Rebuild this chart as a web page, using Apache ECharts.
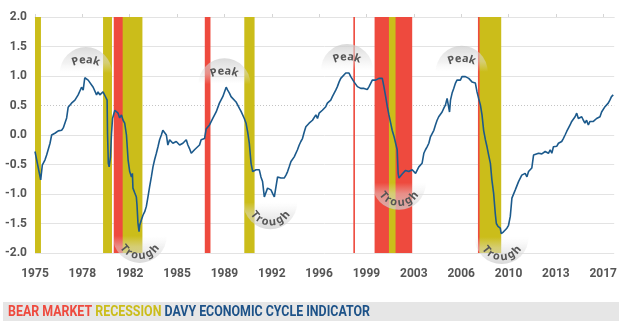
<!DOCTYPE html>
<html><head><meta charset="utf-8">
<script src="https://cdn.jsdelivr.net/npm/echarts@6/dist/echarts.min.js"></script>
<style>html,body{margin:0;padding:0;background:#fff}#c{width:620px;height:325px}</style>
</head><body><div id="c"></div>
<script>
// ---- data (decimal years / indicator values) ----
const dates = [
1975.00,1975.42,1975.54,1975.74,1975.86,1976.11,1976.23,1976.47,1976.72,1976.97,
1977.09,1977.34,1977.45,1977.70,1977.95,1978.19,1978.44,1978.56,1978.68,1978.81,
1978.93,1979.05,1979.30,1979.55,1979.66,1979.79,1980.03,1980.23,1980.33,1980.36,
1980.42,1980.48,1980.58,1980.65,1980.73,1980.90,1981.02,1981.14,1981.26,1981.39,
1981.51,1981.63,1981.76,1981.88,1982.00,1982.13,1982.20,1982.24,1982.37,1982.49,
1982.54,1982.61,1982.69,1982.74,1982.86,1982.98,1983.11,1983.23,1983.35,1983.47,
1983.60,1983.72,1983.84,1983.97,1984.09,1984.21,1984.34,1984.45,1984.58,1984.71,
1984.82,1984.95,1985.19,1985.44,1985.69,1985.93,1986.18,1986.30,1986.42,1986.55,
1986.67,1986.79,1986.92,1987.16,1987.28,1987.53,1987.65,1987.90,1988.14,1988.39,
1988.63,1988.88,1989.13,1989.24,1989.37,1989.49,1989.61,1989.86,1990.11,1990.23,
1990.35,1990.47,1990.60,1990.72,1990.84,1990.97,1991.09,1991.21,1991.34,1991.58,
1991.70,1991.82,1991.95,1992.07,1992.19,1992.32,1992.44,1992.56,1992.69,1992.81,
1992.93,1993.05,1993.18,1993.42,1993.55,1993.67,1993.79,1993.92,1994.03,1994.16,
1994.28,1994.40,1994.53,1994.65,1994.77,1994.90,1995.02,1995.26,1995.51,1995.63,
1995.76,1995.88,1996.00,1996.24,1996.49,1996.61,1996.74,1996.86,1996.98,1997.11,
1997.23,1997.35,1997.48,1997.60,1997.72,1997.97,1998.09,1998.21,1998.34,1998.46,
1998.58,1998.71,1998.83,1998.95,1999.08,1999.19,1999.32,1999.44,1999.56,1999.69,
1999.81,1999.93,2000.18,2000.42,2000.55,2000.67,2000.79,2000.92,2001.04,2001.16,
2001.29,2001.40,2001.53,2001.65,2001.77,2001.84,2001.90,2002.14,2002.39,2002.63,
2002.88,2003.13,2003.24,2003.37,2003.49,2003.61,2003.74,2003.86,2003.98,2004.11,
2004.23,2004.35,2004.48,2004.60,2004.72,2004.84,2004.97,2005.09,2005.21,2005.34,
2005.46,2005.58,2005.64,2005.71,2005.83,2005.95,2006.08,2006.19,2006.32,2006.44,
2006.56,2006.69,2006.81,2006.93,2007.06,2007.18,2007.30,2007.42,2007.55,2007.67,
2007.79,2007.92,2008.04,2008.16,2008.29,2008.41,2008.53,2008.66,2008.77,2008.90,
2009.02,2009.10,2009.22,2009.27,2009.39,2009.46,2009.63,2009.76,2009.88,2010.00,
2010.13,2010.25,2010.37,2010.50,2010.62,2010.74,2010.87,2010.98,2011.11,2011.23,
2011.36,2011.48,2011.60,2011.72,2011.85,2011.97,2012.22,2012.46,2012.71,2012.95,
2013.08,2013.20,2013.32,2013.45,2013.57,2013.69,2013.81,2013.93,2014.05,2014.18,
2014.30,2014.42,2014.55,2014.67,2014.79,2014.92,2015.04,2015.16,2015.28,2015.41,
2015.53,2015.65,2015.77,2015.90,2016.02,2016.14,2016.27,2016.39,2016.51,2016.64,
2016.76,2016.88,2017.00,2017.13,2017.25,2017.37,2017.49,2017.61,2017.74
];
const values = [
-0.28,-0.76,-0.51,-0.42,-0.34,-0.14,0.00,0.03,0.07,0.08,
0.12,0.29,0.47,0.54,0.59,0.68,0.81,0.76,0.97,0.98,
0.93,0.90,0.81,0.68,0.73,0.68,0.73,0.64,0.59,0.03,
-0.48,-0.54,-0.37,0.00,0.28,0.42,0.45,0.37,0.29,0.34,
0.25,0.20,0.00,-0.42,-0.62,-0.71,-0.65,-0.90,-0.98,-1.05,
-1.19,-1.49,-1.64,-1.53,-1.44,-1.36,-1.30,-1.21,-1.05,-0.88,
-0.71,-0.54,-0.42,-0.31,-0.20,-0.08,0.00,0.08,0.06,0.00,
-0.17,-0.08,-0.14,-0.11,-0.17,-0.14,-0.08,-0.17,-0.23,-0.31,
-0.34,-0.25,-0.23,-0.17,-0.08,-0.06,0.10,0.17,0.28,0.39,
0.54,0.65,0.81,0.76,0.71,0.65,0.65,0.56,0.45,0.40,
0.37,0.28,0.20,0.05,-0.14,-0.48,-0.62,-0.65,-0.59,-0.59,
-0.71,-0.79,-1.05,-1.02,-0.90,-0.88,-0.93,-0.99,-1.05,-0.88,
-0.71,-0.71,-0.73,-0.73,-0.68,-0.62,-0.54,-0.45,-0.48,-0.37,
-0.40,-0.25,-0.17,-0.11,-0.06,0.05,0.14,0.20,0.25,0.28,
0.34,0.28,0.37,0.42,0.48,0.54,0.54,0.59,0.65,0.68,
0.76,0.82,0.90,0.96,0.99,1.05,1.07,1.05,0.99,0.96,
0.90,0.88,0.82,0.85,0.79,0.82,0.79,0.82,0.77,0.82,
0.85,0.93,0.93,0.96,0.98,0.96,0.82,0.65,0.48,0.34,
0.20,0.08,-0.02,-0.05,-0.25,-0.65,-0.73,-0.66,-0.60,-0.62,
-0.59,-0.65,-0.62,-0.54,-0.56,-0.48,-0.31,-0.25,-0.20,-0.14,
-0.03,0.00,0.08,0.17,0.25,0.31,0.29,0.39,0.45,0.51,
0.62,0.65,0.39,0.59,0.71,0.79,0.88,0.93,0.96,0.93,
0.99,1.02,0.99,1.00,0.96,0.99,0.90,0.93,0.88,0.73,
0.62,0.51,0.34,0.08,-0.08,-0.20,-0.34,-0.48,-0.76,-0.99,
-1.33,-1.50,-1.55,-1.53,-1.58,-1.67,-1.64,-1.61,-1.58,-1.53,
-1.38,-1.07,-1.05,-0.93,-0.90,-0.79,-0.76,-0.68,-0.71,-0.65,
-0.71,-0.62,-0.65,-0.56,-0.34,-0.34,-0.31,-0.32,-0.28,-0.31,
-0.25,-0.31,-0.20,-0.17,-0.19,-0.14,-0.11,-0.11,-0.06,0.00,
0.06,0.08,0.17,0.23,0.25,0.31,0.37,0.28,0.25,0.31,
0.25,0.20,0.25,0.17,0.23,0.20,0.23,0.20,0.28,0.25,
0.31,0.39,0.42,0.48,0.45,0.54,0.59,0.65,0.68
];
const recessions = [[1975.00,1975.44],[1980.03,1980.69],[1981.48,1982.94],[1990.47,1991.23],[2001.16,2001.65],[2007.86,2009.46]];
const bearMarkets = [[1980.82,1982.60],[1987.55,1987.97],[1998.53,1998.65],[2000.10,2002.88],[2007.74,2009.20]];
const tickYears = [1975,1978.5,1982,1985.5,1989,1992.5,1996,1999.5,2003,2006.5,2010,2013.5,2017];
const tickLabels = ['1975','1978','1982','1985','1989','1992','1996','1999','2003','2006','2010','2013','2017'];
const peaks = [[1978.76,1.05],[1989.00,0.86],[1998.06,1.10],[2006.54,1.07]];
const troughs = [[1982.74,-1.71],[1992.39,-1.14],[2001.90,-0.81],[2009.49,-1.73]];
const legendParts = ['BEAR MARKET','RECESSION','DAVY ECONOMIC CYCLE INDICATOR'];

const RED = '#ee4a3e', YEL = '#cbbd1a', NAVY = '#1c5a8c';
const xMin = 1975, xMax = 2017.81;

const chart = echarts.init(document.getElementById('c'));
const option = {
  animation: false,
  grid: {left: 35, right: 4, top: 17, bottom: 72},
  xAxis: [{
    type: 'value', min: xMin, max: xMax,
    axisLine: {show: false}, axisTick: {show: false}, splitLine: {show: false},
    axisLabel: {customValues: tickYears, margin: 15, color: '#555', fontSize: 12, fontWeight: 'bold', fontFamily: 'Roboto',
      formatter: v => { const i = tickYears.indexOf(v); return i >= 0 ? tickLabels[i] : ''; }}
  }, {
    type: 'value', min: xMin, max: xMax,
    axisLine: {show: true, onZero: true, lineStyle: {color: '#e3e3e3'}},
    axisTick: {show: true, customValues: tickYears, length: 3, lineStyle: {color: '#d5d5d5'}},
    axisLabel: {show: false}, splitLine: {show: false}
  }],
  yAxis: {
    type: 'value', min: -2, max: 2, interval: 0.5,
    axisLine: {show: false}, axisTick: {show: false},
    splitLine: {show: true, lineStyle: {color: '#e3e3e3', width: 1}},
    axisLabel: {margin: 8, color: '#555', fontSize: 12, fontWeight: 'bold', fontFamily: 'Roboto',
      formatter: v => v.toFixed(1)}
  },
  series: [
    {type: 'line', data: [], z: 1, silent: true,
     markLine: {z: 1, silent: true, symbol: ['none','none'], label: {show: false},
       data: [{yAxis: 0.5, lineStyle: {color: '#fff', type: 'solid', width: 2}},
              {yAxis: 0.5, lineStyle: {color: '#c4c4c4', type: [1, 2], width: 1}}]}},
    {type: 'line', data: [], z: 2, silent: true,
     markArea: {z: 2, silent: true, label: {show: false}, itemStyle: {color: RED, opacity: 1},
       data: bearMarkets.map(b => [{xAxis: b[0]}, {xAxis: b[1]}])}},
    {type: 'line', data: [], z: 3, silent: true,
     markArea: {z: 3, silent: true, label: {show: false}, itemStyle: {color: YEL, opacity: 1},
       data: recessions.map(b => [{xAxis: b[0]}, {xAxis: b[1]}])}},
    {type: 'line', z: 6, symbol: 'none', silent: true,
     lineStyle: {color: NAVY, width: 1.6},
     data: dates.map((d, i) => [d, values[i]])}
  ]
};
chart.setOption(option);

// ---- annotations ----
const ctx = document.createElement('canvas').getContext('2d');
function measure(t, font) { ctx.font = font; return ctx.measureText(t).width; }
const els = [];
const annFont = 'bold 11px "Noto Sans"';
function arcLetters(text, cx, cy, R, top) {
  const ws = [...text].map(ch => measure(ch, annFont) + 0.5);
  const W = ws.reduce((a, b) => a + b, 0);
  const span = W / R;
  let cum = 0;
  [...text].forEach((ch, k) => {
    const mid = (cum + ws[k] / 2) / R;
    cum += ws[k];
    let th, rot;
    if (top) { th = -Math.PI / 2 - span / 2 + mid; rot = -(th + Math.PI / 2); }
    else { th = Math.PI / 2 + span / 2 - mid; rot = -(th - Math.PI / 2); }
    els.push({type: 'text', z: 5, silent: true, x: cx + R * Math.cos(th), y: cy + R * Math.sin(th), rotation: rot,
      style: {text: ch, font: annFont, fill: '#555', align: 'center', verticalAlign: 'middle'}});
  });
}
peaks.forEach(p => {
  const [px, py] = chart.convertToPixel({gridIndex: 0}, p);
  els.push({type: 'sector', z: 4, silent: true,
    shape: {cx: px, cy: py, r: 26, r0: 0, startAngle: Math.PI, endAngle: Math.PI * 2},
    style: {fill: {type: 'linear', x: 0, y: 0, x2: 0, y2: 1, colorStops: [
      {offset: 0, color: 'rgba(205,205,205,0.75)'}, {offset: 0.6, color: 'rgba(225,225,225,0.45)'}, {offset: 1, color: 'rgba(235,235,235,0)'}]}}});
  arcLetters('Peak', px, py + 21, 34, true);
});
troughs.forEach(p => {
  const [px, py] = chart.convertToPixel({gridIndex: 0}, p);
  els.push({type: 'sector', z: 4, silent: true,
    shape: {cx: px, cy: py, r: 27, r0: 0, startAngle: 0, endAngle: Math.PI},
    style: {fill: {type: 'linear', x: 0, y: 1, x2: 0, y2: 0, colorStops: [
      {offset: 0, color: 'rgba(205,205,205,0.75)'}, {offset: 0.6, color: 'rgba(225,225,225,0.45)'}, {offset: 1, color: 'rgba(235,235,235,0)'}]}}});
  arcLetters('Trough', px, py, 20, false);
});

// ---- legend strip ----
els.push({type: 'rect', z: 1, silent: true, shape: {x: 3, y: 302, width: 616, height: 19}, style: {fill: '#e6e6e6'}});
const legFont = 'bold 14px Roboto';
const space = measure(' ', legFont);
const widths = legendParts.map(t => measure(t, legFont));
const total = widths.reduce((a, b) => a + b, 0) + space * 2;
const sc = 362 / total;
const legColors = [RED, YEL, '#1d5288'];
let lx = 8;
legendParts.forEach((t, i) => {
  els.push({type: 'text', z: 2, silent: true, x: lx, y: 312, scaleX: sc,
    style: {text: t, font: legFont, fill: legColors[i], align: 'left', verticalAlign: 'middle'}});
  lx += (widths[i] + space) * sc;
});
chart.setOption({graphic: {elements: els}});
</script>
</body></html>
